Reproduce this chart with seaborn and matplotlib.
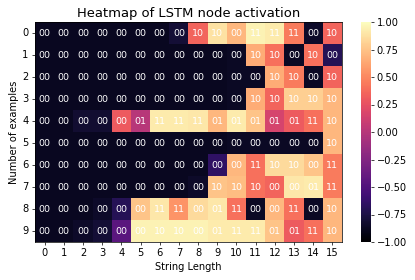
import numpy as np
import matplotlib
matplotlib.use("Agg")
import matplotlib.pyplot as plt
import seaborn as sns

string_length = list(range(16))
examples = list(range(10))

activation = [
    [-0.88, -0.88, -0.88, -0.88, -0.88, -0.88, -0.88, -0.80, 0.35, 0.88, 0.70, 0.95, 0.92, 0.45, -0.85, 0.35],
    [-0.88, -0.88, -0.88, -0.88, -0.88, -0.88, -0.88, -0.88, -0.88, -0.88, -0.86, 0.65, 0.40, -0.86, 0.40, -0.70],
    [-0.88, -0.88, -0.88, -0.88, -0.88, -0.88, -0.88, -0.88, -0.88, -0.88, -0.86, -0.86, 0.65, 0.45, -0.86, 0.35],
    [-0.88, -0.88, -0.88, -0.88, -0.88, -0.88, -0.88, -0.88, -0.88, -0.88, -0.86, 0.65, 0.35, 0.80, 0.80, 0.70],
    [-0.88, -0.88, -0.82, -0.82, 0.30, 0.00, 0.92, 0.92, 0.90, 0.70, 0.92, 0.75, 0.15, 0.30, 0.40, 0.70],
    [-0.88, -0.88, -0.88, -0.88, -0.88, -0.88, -0.88, -0.88, -0.88, -0.88, -0.86, -0.86, -0.86, -0.86, -0.86, 0.70],
    [-0.88, -0.88, -0.88, -0.88, -0.88, -0.88, -0.88, -0.88, -0.88, -0.65, 0.70, 0.40, 0.85, 0.85, 0.75, 0.45],
    [-0.88, -0.88, -0.88, -0.88, -0.88, -0.88, -0.88, -0.88, -0.85, 0.75, 0.72, 0.40, 0.35, 0.90, 0.92, 0.45],
    [-0.88, -0.88, -0.88, -0.85, -0.70, 0.75, 0.90, 0.55, 0.85, 0.90, 0.40, -0.86, 0.70, 0.40, -0.86, 0.70],
    [-0.88, -0.88, -0.85, -0.80, -0.45, 0.95, 0.95, 0.95, 0.95, 0.92, 0.92, 0.92, 0.75, 0.30, 0.40, 0.70],
]

labels = [
    ["00", "00", "00", "00", "00", "00", "00", "00", "10", "10", "00", "11", "11", "11", "00", "10"],
    ["00", "00", "00", "00", "00", "00", "00", "00", "00", "00", "00", "10", "10", "00", "10", "00"],
    ["00", "00", "00", "00", "00", "00", "00", "00", "00", "00", "00", "00", "10", "10", "00", "10"],
    ["00", "00", "00", "00", "00", "00", "00", "00", "00", "00", "00", "10", "10", "10", "10", "10"],
    ["00", "00", "00", "00", "00", "01", "11", "11", "11", "01", "01", "01", "01", "01", "11", "10"],
    ["00", "00", "00", "00", "00", "00", "00", "00", "00", "00", "00", "00", "00", "00", "00", "10"],
    ["00", "00", "00", "00", "00", "00", "00", "00", "00", "00", "00", "11", "10", "10", "00", "11"],
    ["00", "00", "00", "00", "00", "00", "00", "00", "00", "10", "10", "10", "00", "00", "01", "11"],
    ["00", "00", "00", "00", "00", "00", "11", "11", "00", "01", "11", "00", "00", "11", "00", "10"],
    ["00", "00", "00", "00", "00", "00", "10", "10", "00", "01", "11", "11", "01", "01", "11", "10"],
]

title = "Heatmap of LSTM node activation"
xlabel = "String Length"
ylabel = "Number of examples"

dpi = 65
fig = plt.figure(figsize=(415 / dpi, 280 / dpi), dpi=dpi)
ax = fig.add_axes([35 / 415, 38 / 280, 307 / 415, 220 / 280])
cax = fig.add_axes([361 / 415, 38 / 280, 9.5 / 415, 220 / 280])

sns.heatmap(np.array(activation), annot=np.array(labels), fmt="", cmap="magma",
            vmin=-1, vmax=1, ax=ax, cbar_ax=cax,
            xticklabels=string_length, yticklabels=examples,
            annot_kws={"color": "white", "fontsize": 10.5})
ax.set_title(title, fontsize=14.5)
ax.set_xlabel(xlabel, fontsize=11)
ax.set_ylabel(ylabel, fontsize=11)
ax.tick_params(axis="both", labelsize=11)
ax.tick_params(axis="y", rotation=0)
ax.tick_params(axis="x", rotation=0)
for s in ax.spines.values():
    s.set_visible(True)
    s.set_color("black")
cax.set_yticks([-1, -0.75, -0.5, -0.25, 0, 0.25, 0.5, 0.75, 1.0])
cax.set_yticklabels(["\u22121.00", "\u22120.75", "\u22120.50", "\u22120.25", "0.00", "0.25", "0.50", "0.75", "1.00"])
cax.tick_params(labelsize=11)
fig.savefig("out.png", dpi=dpi)
